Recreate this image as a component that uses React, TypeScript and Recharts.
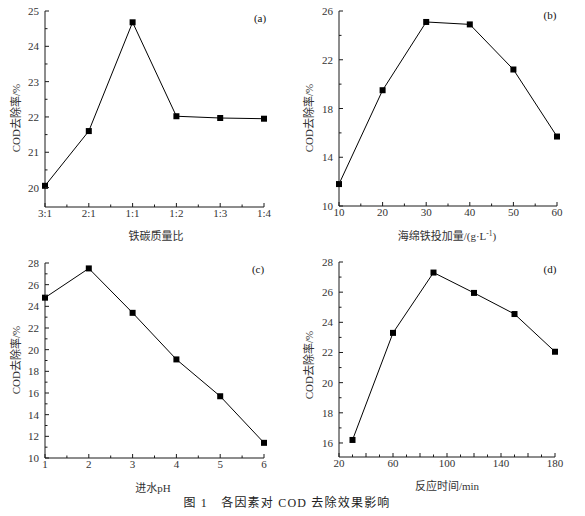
import React from "react";
import { LineChart, Line, XAxis, YAxis } from "recharts";

// (a) 铁碳质量比
const ratioLabels = ["3:1", "2:1", "1:1", "1:2", "1:3", "1:4"];
const ratioValues = [20.05, 21.6, 24.68, 22.02, 21.97, 21.95];
const ratioXTicks = [0, 0.5, 1, 1.5, 2, 2.5, 3, 3.5, 4, 4.5, 5];
const ratioYTicks = [20, 20.5, 21, 21.5, 22, 22.5, 23, 23.5, 24, 24.5, 25];

// (b) 海绵铁投加量
const doseX = [10, 20, 30, 40, 50, 60];
const doseValues = [11.8, 19.5, 25.1, 24.9, 21.2, 15.7];
const doseXTicks = [10, 15, 20, 25, 30, 35, 40, 45, 50, 55, 60];
const doseYTicks = [10, 12, 14, 16, 18, 20, 22, 24, 26];

// (c) 进水pH
const phX = [1, 2, 3, 4, 5, 6];
const phValues = [24.8, 27.5, 23.4, 19.1, 15.7, 11.4];
const phXTicks = [1, 1.5, 2, 2.5, 3, 3.5, 4, 4.5, 5, 5.5, 6];
const phYTicks = [10, 11, 12, 13, 14, 15, 16, 17, 18, 19, 20, 21, 22, 23, 24, 25, 26, 27, 28];

// (d) 反应时间
const timeX = [30, 60, 90, 120, 150, 180];
const timeValues = [16.2, 23.3, 27.3, 25.95, 24.55, 22.05];
const timeXTicks = [20, 30, 40, 50, 60, 70, 80, 90, 100, 110, 120, 130, 140, 150, 160, 170, 180];
const timeXLabels = [20, 60, 100, 140, 180];
const timeYTicks = [16, 17, 18, 19, 20, 21, 22, 23, 24, 25, 26, 27, 28];

const FONT = '"Liberation Serif", "Noto Sans CJK SC", serif';
const INK = "#1a1a1a";

type PanelProps = {
  left: number;
  top: number;
  w: number;
  h: number;
  plotL: number;
  plotT: number;
  plotR: number;
  plotB: number;
  data: { x: number; y: number }[];
  xDomain: [number, number];
  yDomain: [number, number];
  xTicks: number[];
  yTicks: number[];
  xMajor: (v: number) => boolean;
  yMajor: (v: number) => boolean;
  xLabel: (v: number) => string | null;
};

function Panel(p: PanelProps) {
  const XTick = (props: any) => {
    const { x, y, payload } = props;
    const v = payload.value;
    const major = p.xMajor(v);
    const label = p.xLabel(v);
    return (
      <g>
        <line x1={x} x2={x} y1={y} y2={y - (major ? 4 : 2.5)} stroke={INK} strokeWidth={1} />
        {label !== null && (
          <text x={x} y={y + 10} textAnchor="middle" fontSize={11} fontFamily={FONT} fill="#333">
            {label}
          </text>
        )}
      </g>
    );
  };
  const YTick = (props: any) => {
    const { x, y, payload } = props;
    const v = payload.value;
    const major = p.yMajor(v);
    return (
      <g>
        <line x1={x} x2={x + (major ? 4 : 2.5)} y1={y} y2={y} stroke={INK} strokeWidth={1} />
        {major && (
          <text x={x - 6} y={y + 4} textAnchor="end" fontSize={11} fontFamily={FONT} fill="#333">
            {v}
          </text>
        )}
      </g>
    );
  };
  const Square = (props: any) => (
    <rect key={props.index} x={props.cx - 3} y={props.cy - 3} width={6} height={6} fill="#000" />
  );
  return (
    <div style={{ position: "absolute", left: p.left, top: p.top }}>
      <LineChart
        width={p.w}
        height={p.h}
        data={p.data}
        margin={{ top: p.plotT, right: p.w - p.plotR, left: 0, bottom: 0 }}
      >
        <XAxis
          dataKey="x"
          type="number"
          domain={p.xDomain}
          ticks={p.xTicks}
          interval={0}
          height={p.h - p.plotB}
          tickSize={0}
          tickMargin={0}
          tickLine={false}
          axisLine={{ stroke: INK, strokeWidth: 1 }}
          tick={<XTick />}
        />
        <YAxis
          type="number"
          domain={p.yDomain}
          ticks={p.yTicks}
          interval={0}
          width={p.plotL}
          tickSize={0}
          tickMargin={0}
          tickLine={false}
          axisLine={{ stroke: INK, strokeWidth: 1 }}
          tick={<YTick />}
        />
        <Line
          dataKey="y"
          stroke="#000"
          strokeWidth={1}
          dot={Square}
          activeDot={false}
          isAnimationActive={false}
        />
      </LineChart>
    </div>
  );
}

const dataA = ratioValues.map((y, i) => ({ x: i, y }));
const dataB = doseX.map((x, i) => ({ x, y: doseValues[i] }));
const dataC = phX.map((x, i) => ({ x, y: phValues[i] }));
const dataD = timeX.map((x, i) => ({ x, y: timeValues[i] }));

const isInt = (v: number) => Number.isInteger(v);

export default function App() {
  const yTitle = "COD去除率/%";
  return (
    <div style={{ position: "absolute", left: 0, top: 0, width: 585, height: 516, background: "#fff" }}>
      <Panel
        left={0}
        top={0}
        w={290}
        h={250}
        plotL={45}
        plotT={11}
        plotR={264}
        plotB={207}
        data={dataA}
        xDomain={[0, 5]}
        yDomain={[19.45, 25]}
        xTicks={ratioXTicks}
        yTicks={ratioYTicks}
        xMajor={isInt}
        yMajor={isInt}
        xLabel={(v) => (isInt(v) ? ratioLabels[v] : null)}
      />
      <Panel
        left={290}
        top={0}
        w={295}
        h={250}
        plotL={49}
        plotT={11}
        plotR={267}
        plotB={206}
        data={dataB}
        xDomain={[10, 60]}
        yDomain={[10, 26]}
        xTicks={doseXTicks}
        yTicks={doseYTicks}
        xMajor={(v) => v % 10 === 0}
        yMajor={(v) => v % 4 === 2}
        xLabel={(v) => (v % 10 === 0 ? String(v) : null)}
      />
      <Panel
        left={0}
        top={250}
        w={290}
        h={250}
        plotL={45}
        plotT={13}
        plotR={264}
        plotB={208}
        data={dataC}
        xDomain={[1, 6]}
        yDomain={[10, 28]}
        xTicks={phXTicks}
        yTicks={phYTicks}
        xMajor={isInt}
        yMajor={(v) => v % 2 === 0}
        xLabel={(v) => (isInt(v) ? String(v) : null)}
      />
      <Panel
        left={290}
        top={250}
        w={295}
        h={250}
        plotL={49}
        plotT={12}
        plotR={265}
        plotB={207}
        data={dataD}
        xDomain={[20, 180]}
        yDomain={[15.07, 28]}
        xTicks={timeXTicks}
        yTicks={timeYTicks}
        xMajor={(v) => v % 20 === 0}
        yMajor={(v) => v % 2 === 0}
        xLabel={(v) => (timeXLabels.includes(v) ? String(v) : null)}
      />
      <svg
        width={585}
        height={516}
        style={{ position: "absolute", left: 0, top: 0, pointerEvents: "none" }}
        fontFamily={FONT}
        fill="#333"
      >
        <text transform="translate(20,118) rotate(-90)" textAnchor="middle" fontSize={11}>
          {yTitle}
        </text>
        <text transform="translate(313,118) rotate(-90)" textAnchor="middle" fontSize={11}>
          {yTitle}
        </text>
        <text transform="translate(20,360) rotate(-90)" textAnchor="middle" fontSize={11}>
          {yTitle}
        </text>
        <text transform="translate(313,365) rotate(-90)" textAnchor="middle" fontSize={11}>
          {yTitle}
        </text>

        <text x={156} y={240} textAnchor="middle" fontSize={11}>铁碳质量比</text>
        <text x={447} y={240} textAnchor="middle" fontSize={11}>
          海绵铁投加量/(g·L<tspan dy={-4} fontSize={7.5}>-1</tspan><tspan dy={4}>)</tspan>
        </text>
        <text x={153} y={492} textAnchor="middle" fontSize={11}>进水pH</text>
        <text x={447} y={490} textAnchor="middle" fontSize={11}>反应时间/min</text>

        <text x={260} y={22} textAnchor="middle" fontSize={11} fill="#111">(a)</text>
        <text x={550} y={19} textAnchor="middle" fontSize={11} fill="#111">(b)</text>
        <text x={258} y={273} textAnchor="middle" fontSize={11} fill="#111">(c)</text>
        <text x={550} y={273} textAnchor="middle" fontSize={11} fill="#111">(d)</text>

        <text x={287} y={507} textAnchor="middle" fontSize={12} letterSpacing={1.2} fill="#222">
          图 1　各因素对 COD 去除效果影响
        </text>
      </svg>
    </div>
  );
}
